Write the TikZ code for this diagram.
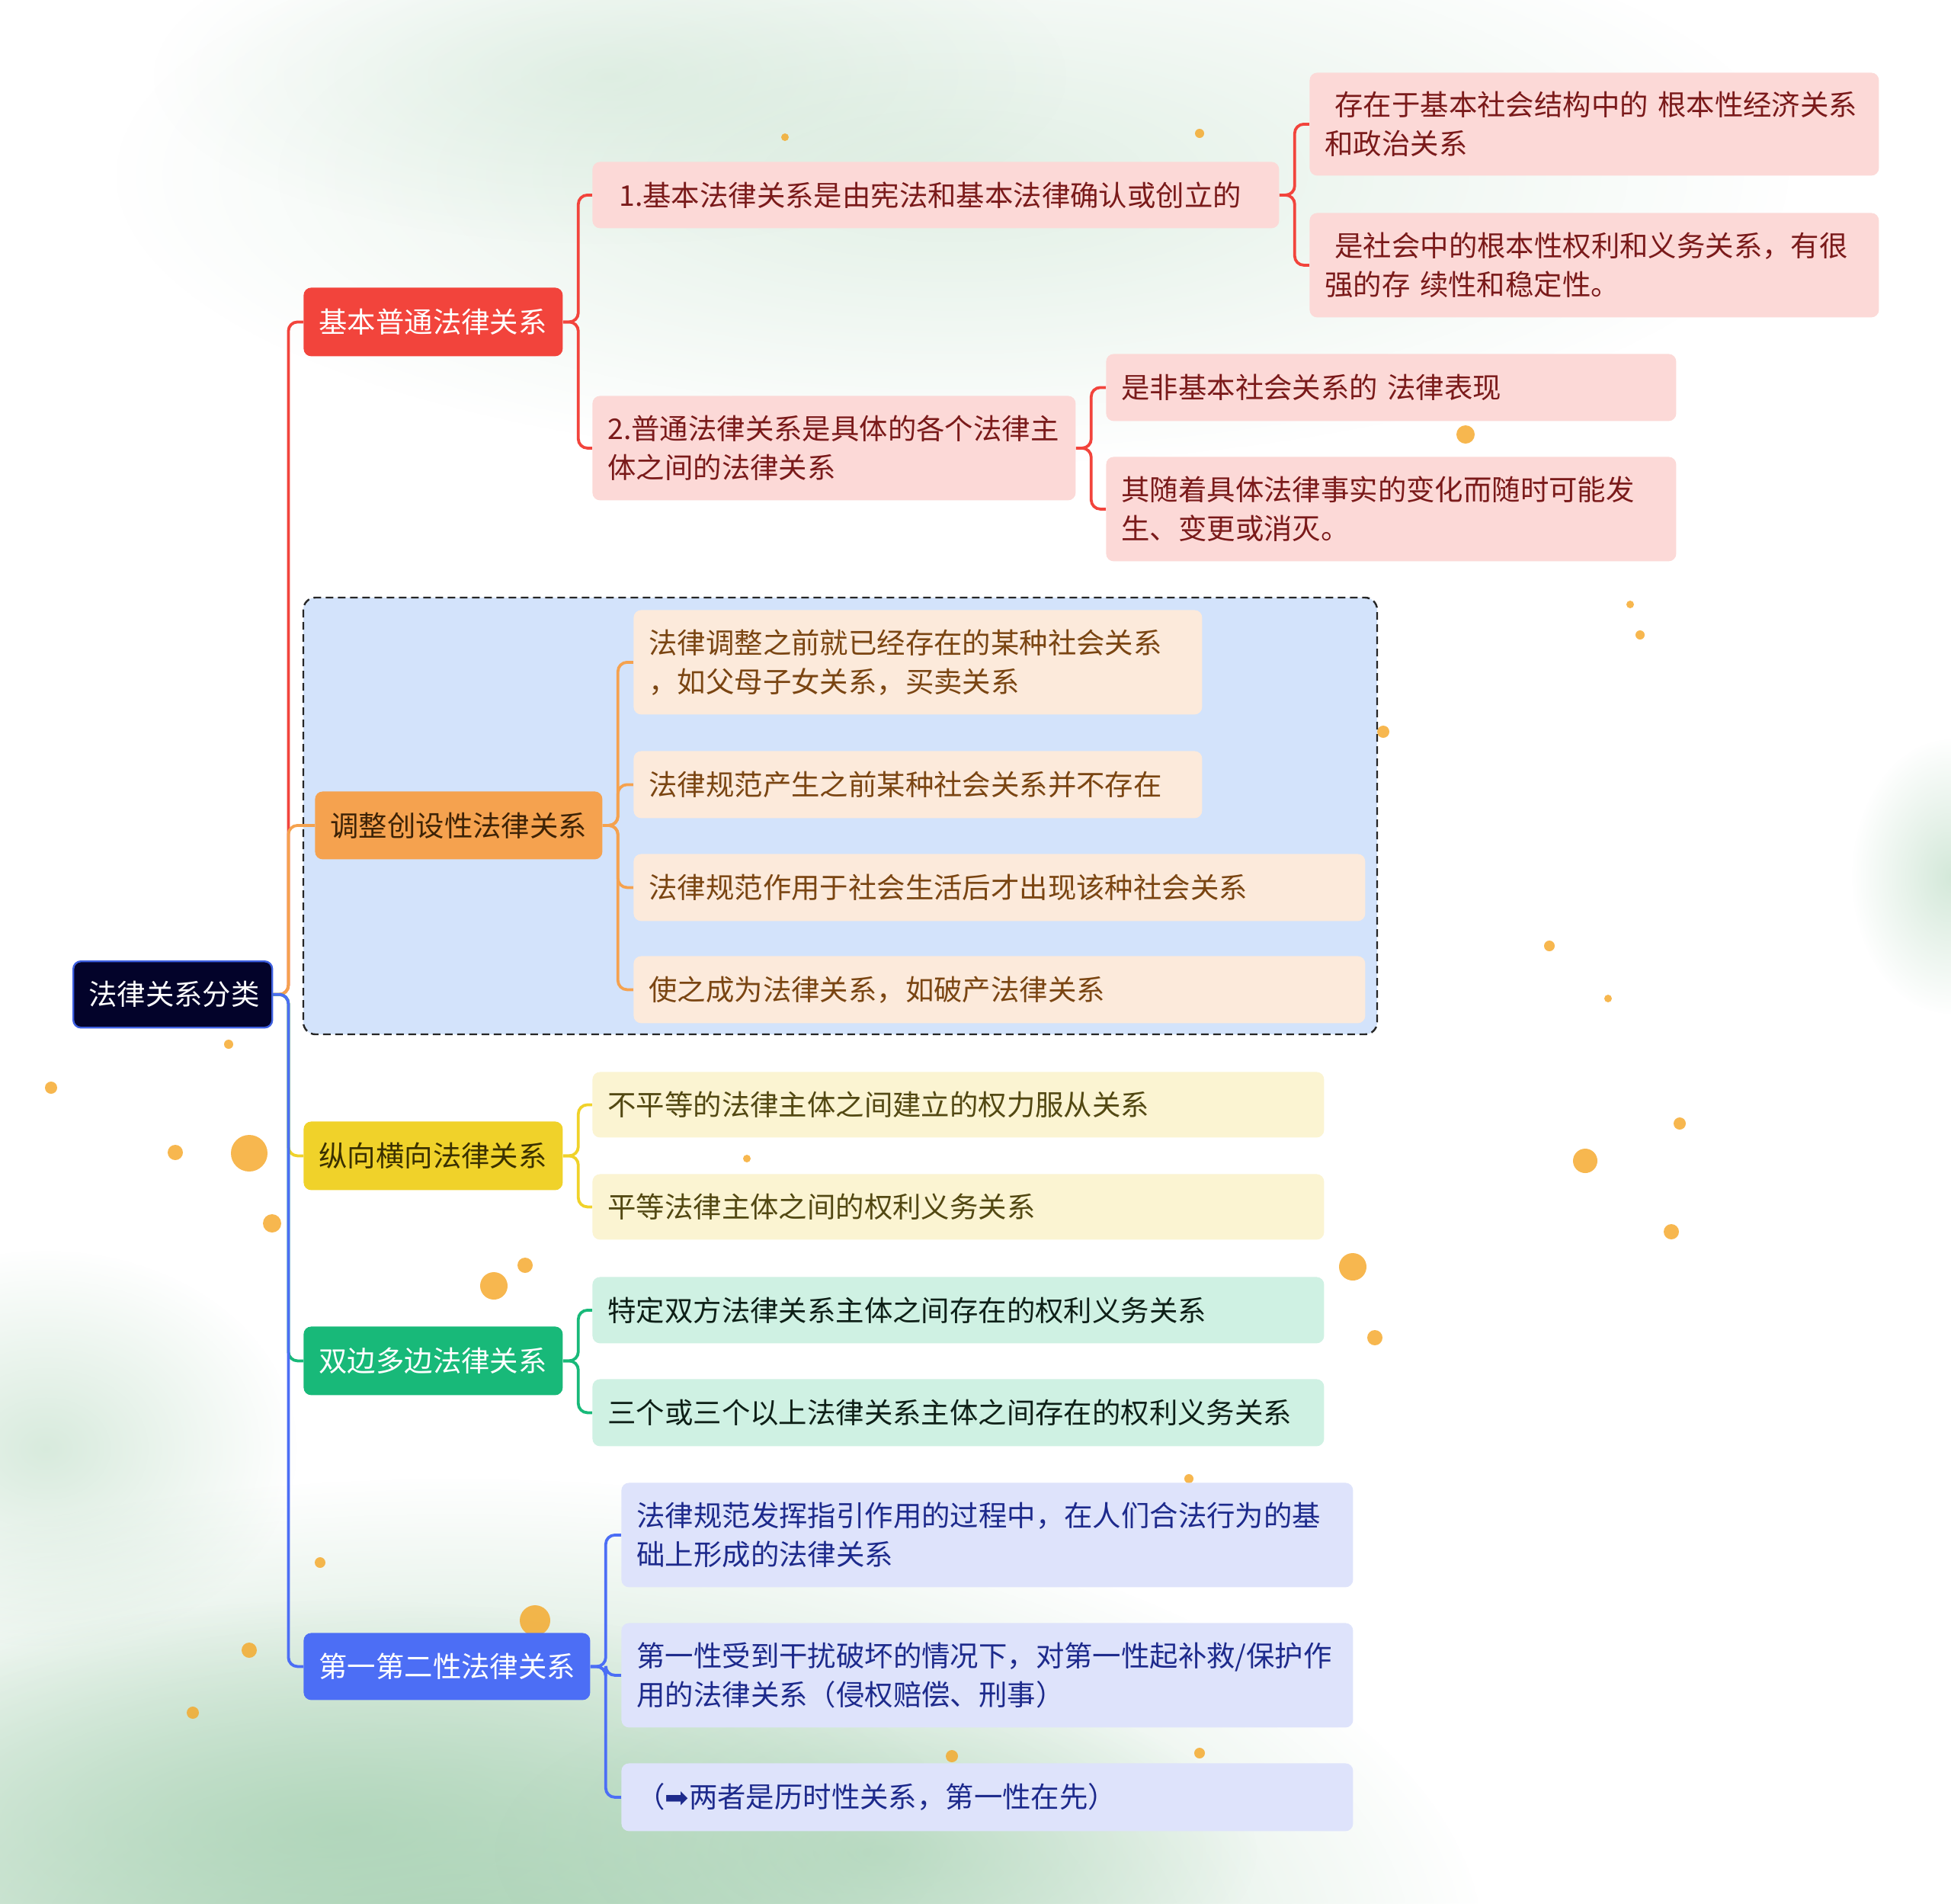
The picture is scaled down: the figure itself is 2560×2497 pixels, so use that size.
\documentclass[tikz,border=0pt]{standalone}
\usepackage{fontspec}
\setmainfont{Noto Sans CJK SC}
\newfontfamily\symf{DejaVu Sans}
\usetikzlibrary{fadings}
\tikzfading[name=softfade, inner color=transparent!0, outer color=transparent!100]
\pgfdeclarelayer{back}
\pgfdeclarelayer{mid}
\pgfsetlayers{back,mid,main}
\definecolor{rootc}{HTML}{03032A}
\definecolor{rootb}{HTML}{3D5FE0}
\definecolor{redc}{HTML}{F2443C}
\definecolor{redl}{HTML}{FCD9D7}
\definecolor{redt}{HTML}{7A1A1A}
\definecolor{orac}{HTML}{F5A24F}
\definecolor{oral}{HTML}{FCEADB}
\definecolor{orat}{HTML}{7A4512}
\definecolor{orad}{HTML}{3D2206}
\definecolor{boxc}{HTML}{D3E3FB}
\definecolor{yelc}{HTML}{F0D22A}
\definecolor{yell}{HTML}{FBF4D2}
\definecolor{yelt}{HTML}{524812}
\definecolor{yeld}{HTML}{3A3000}
\definecolor{grec}{HTML}{18B979}
\definecolor{grel}{HTML}{CFF1E3}
\definecolor{gret}{HTML}{0E1F17}
\definecolor{bluc}{HTML}{4C6EF5}
\definecolor{blul}{HTML}{DEE3FB}
\definecolor{blut}{HTML}{1D2A8C}
\definecolor{dotc}{HTML}{F5A623}
\definecolor{wash}{HTML}{A9D2B4}
\newcommand\mn[7]{%
 \pgfmathsetmacro\mnw{(#5-#3)*0.5}%
 \pgfmathsetmacro\mnh{(#6-#4)*0.5}%
 \pgfmathsetmacro\mntw{(#5-#3)*0.5-20}%
 \node[#2,anchor=north west,minimum width=\mnw pt,minimum height=\mnh pt,text width=\mntw pt] (#1) at (#3,#4) {#7};}
\newcommand\cn[3]{\draw[lk,#1] (#2.east) -- ++(20,0) |- (#3.west);}
\tikzset{
 nb/.style={rounded corners=5pt, inner xsep=10pt, inner ysep=0pt, align=left, font=\fontsize{18.7}{25.5}\selectfont},
 rootn/.style={nb, fill=rootc, draw=rootb, line width=1.2pt, text=white},
 redn/.style={nb, fill=redc, text=white},
 oran/.style={nb, fill=orac, text=orad},
 yeln/.style={nb, fill=yelc, text=yeld},
 gren/.style={nb, fill=grec, text=white},
 blun/.style={nb, fill=bluc, text=white},
 redk/.style={nb, fill=redl, text=redt},
 orak/.style={nb, fill=oral, text=orat},
 yelk/.style={nb, fill=yell, text=yelt},
 grek/.style={nb, fill=grel, text=gret},
 bluk/.style={nb, fill=blul, text=blut},
 lk/.style={line width=1.9pt, rounded corners=6pt},
 soft/.style={fill=wash, path fading=softfade},
}
\begin{document}
\begin{tikzpicture}[x=0.5pt,y=-0.5pt]
\useasboundingbox (0,0) rectangle (2560,2497);
\begin{pgfonlayer}{back}
\fill[white] (0,0) rectangle (2560,2497);
\fill[soft, opacity=0.35] (1250,230) ellipse (1100 and 380);
\fill[soft, opacity=0.25] (800,100) ellipse (600 and 220);
\fill[soft, opacity=0.9] (600,2560) ellipse (1350 and 620);
\fill[soft, opacity=0.7] (450,2400) ellipse (800 and 300);
\fill[soft, opacity=0.6] (1150,2430) ellipse (500 and 220);
\fill[soft, opacity=0.45] (60,1900) ellipse (330 and 260);
\fill[soft, opacity=0.5] (2560,1150) ellipse (130 and 180);
\foreach \x/\y/\r in {1574/175/6,1923/570/12,2080/1523/16,2193/1616/10,1804/1755/10,1775/1662/18,
 327/1513/24,230/1512/10,357/1605/12,648/1687/18,689/1660/10,2204/1474/8,67/1427/8,1815/960/8,
 2033/1241/7,2152/833/6,702/2126/20,327/2165/10,253/2247/8,1249/2304/8,2139/793/5,1574/2300/7,
 1220/1120/6,2110/1310/5,300/1370/6,560/1520/6,1560/1940/6,420/2050/7,980/1520/5,1030/180/5}
 \fill[dotc, opacity=0.8] (\x,\y) circle (\r);
\draw[black!85, dashed, dash pattern=on 5pt off 3pt, line width=1.2pt, fill=boxc, rounded corners=8pt]
 (398,784) rectangle (1807,1357);
\end{pgfonlayer}
\mn{root}{rootn}{95}{1260}{356}{1347}{法律关系分类}
\mn{ra}{redn}{398}{377}{738}{467}{基本普通法律关系}
\mn{oa}{oran}{413}{1038}{790}{1127}{调整创设性法律关系}
\mn{ya}{yeln}{398}{1471}{738}{1561}{纵向横向法律关系}
\mn{ga}{gren}{398}{1740}{738}{1830}{双边多边法律关系}
\mn{ba}{blun}{398}{2142}{774}{2230}{第一第二性法律关系}
\mn{r1}{redk}{777}{212}{1678}{299}{\hspace*{0.4em}1.基本法律关系是由宪法和基本法律确认或创立的}
\mn{r2}{redk}{777}{519}{1411}{656}{2.普通法律关系是具体的各个法律主\\体之间的法律关系}
\mn{r11}{redk}{1718}{95}{2465}{230}{\hspace*{0.35em}存在于基本社会结构中的~根本性经济关系\\和政治关系}
\mn{r12}{redk}{1718}{279}{2465}{416}{\hspace*{0.35em}是社会中的根本性权利和义务关系，有很\\强的存~续性和稳定性。}
\mn{r21}{redk}{1451}{464}{2199}{552}{是非基本社会关系的~法律表现}
\mn{r22}{redk}{1451}{599}{2199}{736}{其随着具体法律事实的变化而随时可能发\\生、变更或消灭。}
\mn{o1}{orak}{831}{800}{1577}{937}{法律调整之前就已经存在的某种社会关系\\，如父母子女关系，买卖关系}
\mn{o2}{orak}{831}{985}{1577}{1073}{法律规范产生之前某种社会关系并不存在}
\mn{o3}{orak}{831}{1120}{1791}{1208}{法律规范作用于社会生活后才出现该种社会关系}
\mn{o4}{orak}{831}{1254}{1791}{1342}{使之成为法律关系，如破产法律关系}
\mn{y1}{yelk}{777}{1406}{1737}{1492}{不平等的法律主体之间建立的权力服从关系}
\mn{y2}{yelk}{777}{1540}{1737}{1626}{平等法律主体之间的权利义务关系}
\mn{g1}{grek}{777}{1675}{1737}{1762}{特定双方法律关系主体之间存在的权利义务关系}
\mn{g2}{grek}{777}{1809}{1737}{1897}{三个或三个以上法律关系主体之间存在的权利义务关系}
\mn{b1}{bluk}{815}{1945}{1775}{2082}{法律规范发挥指引作用的过程中，在人们合法行为的基\\础上形成的法律关系}
\mn{b2}{bluk}{815}{2129}{1775}{2266}{第一性受到干扰破坏的情况下，对第一性起补救/保护作\\用的法律关系（侵权赔偿、刑事）}
\mn{b3}{bluk}{815}{2313}{1775}{2402}{（{\symf ➡}两者是历时性关系，第一性在先）}
\begin{pgfonlayer}{mid}
\cn{redc}{root}{ra}
\cn{orac}{root}{oa}
\cn{yelc}{root}{ya}
\cn{grec}{root}{ga}
\cn{bluc}{root}{ba}
\cn{redc}{ra}{r1}
\cn{redc}{ra}{r2}
\cn{redc}{r1}{r11}
\cn{redc}{r1}{r12}
\cn{redc}{r2}{r21}
\cn{redc}{r2}{r22}
\cn{orac}{oa}{o1}
\cn{orac}{oa}{o2}
\cn{orac}{oa}{o3}
\cn{orac}{oa}{o4}
\cn{yelc}{ya}{y1}
\cn{yelc}{ya}{y2}
\cn{grec}{ga}{g1}
\cn{grec}{ga}{g2}
\cn{bluc}{ba}{b1}
\cn{bluc}{ba}{b2}
\cn{bluc}{ba}{b3}
\end{pgfonlayer}
\end{tikzpicture}
\end{document}
